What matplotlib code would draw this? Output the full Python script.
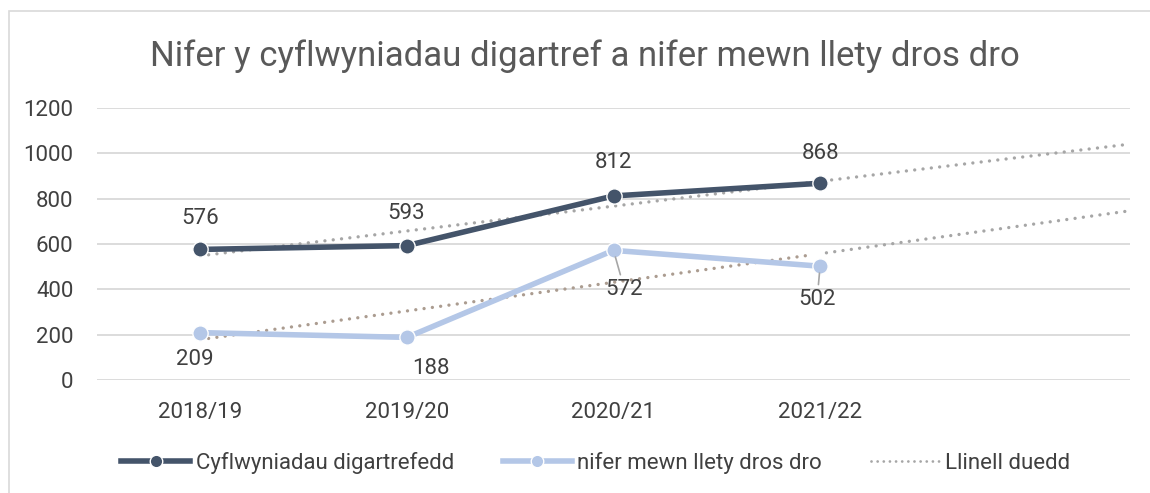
import numpy as np
import matplotlib
matplotlib.use("Agg")
import matplotlib.pyplot as plt
from matplotlib.lines import Line2D
from matplotlib.patches import Rectangle

plt.rcParams['font.family'] = ['Roboto', 'DejaVu Sans']

# data
years = ["2018/19", "2019/20", "2020/21", "2021/22"]
cyflwyniadau = [576, 593, 812, 868]
llety = [209, 188, 572, 502]
yticks = [0, 200, 400, 600, 800, 1000, 1200]

title = "Nifer y cyflwyniadau digartref a nifer mewn llety dros dro"
label_dark = "Cyflwyniadau digartrefedd"
label_light = "nifer mewn llety dros dro"
label_trend = "Llinell duedd"

dark = '#44546a'
light = '#b4c7e7'
grey_dot = '#a6a6a6'
tan_dot = '#ab9c90'
txt = '#404040'

fig = plt.figure(figsize=(11.5, 4.93), dpi=100)
fig.patches.append(Rectangle((9/1150, -0.1), 1.2, 1 - 11/493 + 0.1,
                             transform=fig.transFigure, fill=False,
                             edgecolor='#d9d9d9', lw=1.2))
ax = fig.add_axes([97/1150, 1 - 380/493, (1130 - 97)/1150, 272/493])

x = np.arange(len(years))

# trend lines (linear fit, forecast forward 1.5 periods)
xt = np.linspace(0, len(years) + 0.5, 50)
dots = dict(lw=2.4, linestyle=(0, (0.01, 2.5)), dash_capstyle='round', zorder=3)
p1 = np.polyfit(x, cyflwyniadau, 1)
ax.plot(xt, np.polyval(p1, xt), color=grey_dot, **dots)
p2 = np.polyfit(x, llety, 1)
xa = xt[xt <= 3.0]
xb = xt[xt >= 3.0]
ax.plot(xa, np.polyval(p2, xa), color=tan_dot, **dots)
ax.plot(xb, np.polyval(p2, xb), color=grey_dot, **dots)

ax.plot(x, cyflwyniadau, color=dark, lw=4, marker='o', ms=11,
        mec='white', mew=1, zorder=4, solid_capstyle='butt')
ax.plot(x, llety, color=light, lw=4, marker='o', ms=11,
        mec='white', mew=1, zorder=4, solid_capstyle='butt')

# data labels
off_dark = [(0, 31), (-1, 32), (0, 33), (0, 30)]
off_light = [(-5, -27), (24, -31), (11, -39), (-3, -33)]
for i, v in enumerate(cyflwyniadau):
    ax.annotate(str(v), (x[i], v), xytext=off_dark[i], textcoords='offset pixels',
                ha='center', va='center', fontsize=16, color=txt, zorder=6)
for i, v in enumerate(llety):
    lead = None
    if i >= 2:
        lead = dict(arrowstyle='-', color='#a6a6a6', lw=1.2, shrinkA=1, shrinkB=5)
    ax.annotate(str(v), (x[i], v), xytext=off_light[i], textcoords='offset pixels',
                ha='center', va='center', fontsize=16, color=txt, zorder=6,
                arrowprops=lead)

ax.set_xlim(-0.5, len(years) + 0.5)
ax.set_ylim(0, 1200)
ax.set_yticks(yticks)
ax.set_xticks(x)
ax.set_xticklabels(years)
ax.tick_params(length=0, labelsize=16, labelcolor=txt)
ax.tick_params(axis='x', pad=16)
ax.tick_params(axis='y', pad=17)
ax.grid(axis='y', color='#d9d9d9', lw=1.3)
ax.set_axisbelow(True)
for s in ax.spines.values():
    s.set_visible(False)

fig.text(0.509, 1 - 56/493, title, ha='center', va='center',
         fontsize=25, color='#595959')

handles = [
    Line2D([], [], color=dark, lw=4, marker='o', ms=9, mec='white', mew=1),
    Line2D([], [], color=light, lw=4, marker='o', ms=9, mec='white', mew=1),
    Line2D([], [], color=grey_dot, lw=2, linestyle=(0, (0.01, 2.2)), dash_capstyle='round'),
]
fig.legend(handles, [label_dark, label_light, label_trend], loc='center',
           bbox_to_anchor=(0.518, 1 - 463/493), ncol=3, frameon=False,
           fontsize=16, handlelength=3.1, handletextpad=0.25, columnspacing=2.2,
           labelcolor=txt)

fig.savefig("out.png", dpi=100)
